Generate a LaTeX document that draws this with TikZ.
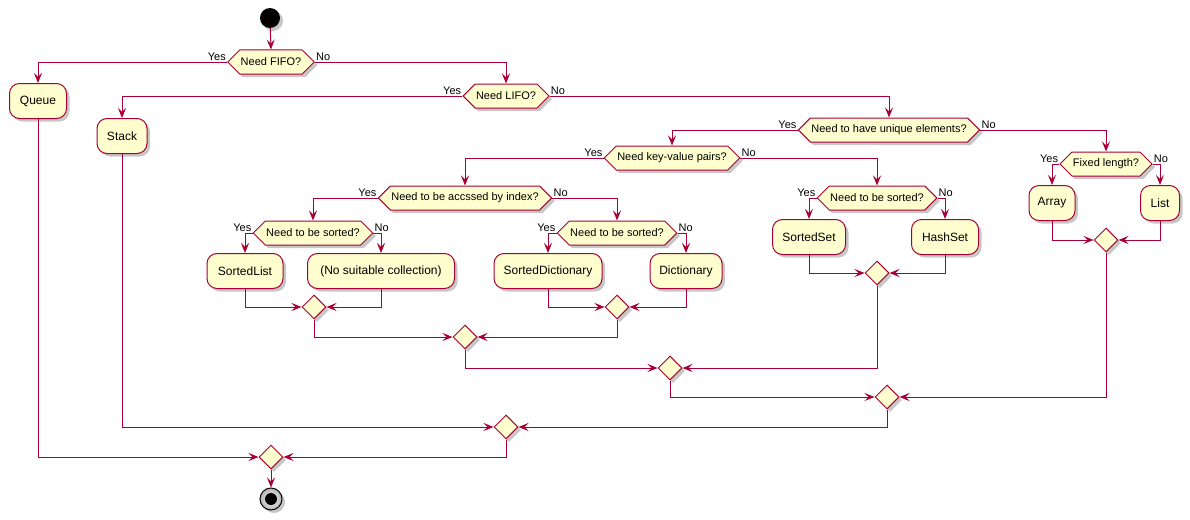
\documentclass[tikz,border=0pt]{standalone}
\usepackage{fontspec}
\setmainfont{Liberation Sans}
\usetikzlibrary{arrows.meta,shapes.symbols,shapes.geometric,shadows}
\definecolor{pline}{HTML}{A80036}
\definecolor{pfill}{HTML}{FEFECE}
\begin{document}
\begin{tikzpicture}[x=1pt,y=-1pt,
  shad/.style={drop shadow={shadow xshift=3pt,shadow yshift=-3pt,fill=black,opacity=0.22}},
  act/.style={draw=pline,fill=pfill,line width=1pt,rounded corners=10pt,minimum height=35pt,inner xsep=2pt,font=\fontsize{12}{14}\selectfont,shad},
  dec/.style={shape=signal,signal to=east and west,draw=pline,fill=pfill,line width=1pt,minimum height=24pt,inner xsep=1pt,inner ysep=0pt,font=\fontsize{11}{13}\selectfont,shad},
  mrg/.style={shape=diamond,draw=pline,fill=pfill,line width=1pt,minimum width=24pt,minimum height=24pt,inner sep=0pt,shad},
  arr/.style={draw=pline,line width=1pt,-{Stealth[length=10pt,width=8pt,inset=4pt]}},
  lbl/.style={font=\fontsize{11}{13}\selectfont,inner sep=1pt}
]
\useasboundingbox (0,0) rectangle (1190,519);
% nodes
\node[circle,fill=black,minimum size=20pt,inner sep=0pt,shad] (start) at (270,18) {};
\node[dec,minimum width=79pt] (fifo) at (271,62) {Need FIFO?};
\node[act,minimum width=57pt] (queue) at (38,101) {Queue};
\node[dec,minimum width=80pt] (lifo) at (506,96) {Need LIFO?};
\node[act,minimum width=50pt] (stack) at (122,136) {Stack};
\node[dec,minimum width=175pt] (uniq) at (889,130) {Need to have unique elements?};
\node[dec,minimum width=132pt] (kv) at (672,158) {Need key-value pairs?};
\node[dec,minimum width=88pt] (fixed) at (1106,164) {Fixed length?};
\node[act,minimum width=46pt] (array) at (1052,203) {Array};
\node[act,minimum width=39pt] (list) at (1160,203) {List};
\node[mrg] (mfixed) at (1106,240) {};
\node[dec,minimum width=116pt] (ssort) at (877,198) {Need to be sorted?};
\node[act,minimum width=73pt] (sset) at (809,237) {SortedSet};
\node[act,minimum width=67pt] (hset) at (945,237) {HashSet};
\node[mrg] (mset) at (877,273) {};
\node[dec,minimum width=170pt] (idx) at (465,198) {Need to be accssed by index?};
\node[dec,minimum width=117pt] (lsort) at (313,233) {Need to be sorted?};
\node[act,minimum width=76pt] (slist) at (245,271) {SortedList};
\node[act,minimum width=147pt] (nosuit) at (381,271) {(No suitable collection)};
\node[mrg] (ml) at (314,307) {};
\node[dec,minimum width=117pt] (dsort) at (617,233) {Need to be sorted?};
\node[act,minimum width=108pt] (sdict) at (548,271) {SortedDictionary};
\node[act,minimum width=72pt] (dict) at (686,271) {Dictionary};
\node[mrg] (md) at (617,307) {};
\node[mrg] (midx) at (465,337) {};
\node[mrg] (mkv) at (670,368) {};
\node[mrg] (mu) at (887,397) {};
\node[mrg] (mlifo) at (506,427) {};
\node[mrg] (mfifo) at (271,457) {};
\node[circle,draw=black,line width=1pt,inner color=white,outer color=gray!60,minimum size=22pt,inner sep=0pt,shad] (stop) at (271,499) {};
\node[circle,fill=black,minimum size=12pt,inner sep=0pt] (stopdot) at (stop.center) {};
% connectors
\draw[arr] (start) -- (fifo.north);
\draw[arr] (fifo.west) -| (queue.north);
\draw[arr] (fifo.east) -| (lifo.north);
\draw[arr] (lifo.west) -| (stack.north);
\draw[arr] (lifo.east) -| (uniq.north);
\draw[arr] (uniq.west) -| (kv.north);
\draw[arr] (uniq.east) -| (fixed.north);
\draw[arr] (fixed.west) -| (array.north);
\draw[arr] (fixed.east) -| (list.north);
\draw[arr] (array.south) |- (mfixed.west);
\draw[arr] (list.south) |- (mfixed.east);
\draw[arr] (kv.west) -| (idx.north);
\draw[arr] (kv.east) -| (ssort.north);
\draw[arr] (ssort.west) -| (sset.north);
\draw[arr] (ssort.east) -| (hset.north);
\draw[arr] (sset.south) |- (mset.west);
\draw[arr] (hset.south) |- (mset.east);
\draw[arr] (idx.west) -| (lsort.north);
\draw[arr] (idx.east) -| (dsort.north);
\draw[arr] (lsort.west) -| (slist.north);
\draw[arr] (lsort.east) -| (nosuit.north);
\draw[arr] (slist.south) |- (ml.west);
\draw[arr] (nosuit.south) |- (ml.east);
\draw[arr] (dsort.west) -| (sdict.north);
\draw[arr] (dsort.east) -| (dict.north);
\draw[arr] (sdict.south) |- (md.west);
\draw[arr] (dict.south) |- (md.east);
\draw[arr] (ml.south) |- (midx.west);
\draw[arr] (md.south) |- (midx.east);
\draw[arr] (midx.south) |- (mkv.west);
\draw[arr] (mset.south) |- (mkv.east);
\draw[arr] (mkv.south) |- (mu.west);
\draw[arr] (mfixed.south) |- (mu.east);
\draw[arr] (mu.south) |- (mlifo.east);
\draw[arr] (stack.south) |- (mlifo.west);
\draw[arr] (mlifo.south) |- (mfifo.east);
\draw[arr] (queue.south) |- (mfifo.west);
\draw[arr] (mfifo.south) -- (stop.north);
% labels
\foreach \n in {fifo,lifo,uniq,kv,fixed,ssort,idx,lsort,dsort}{
  \node[lbl,anchor=south east] at (\n.west) {Yes};
  \node[lbl,anchor=south west] at (\n.east) {No};
}
\end{tikzpicture}
\end{document}
